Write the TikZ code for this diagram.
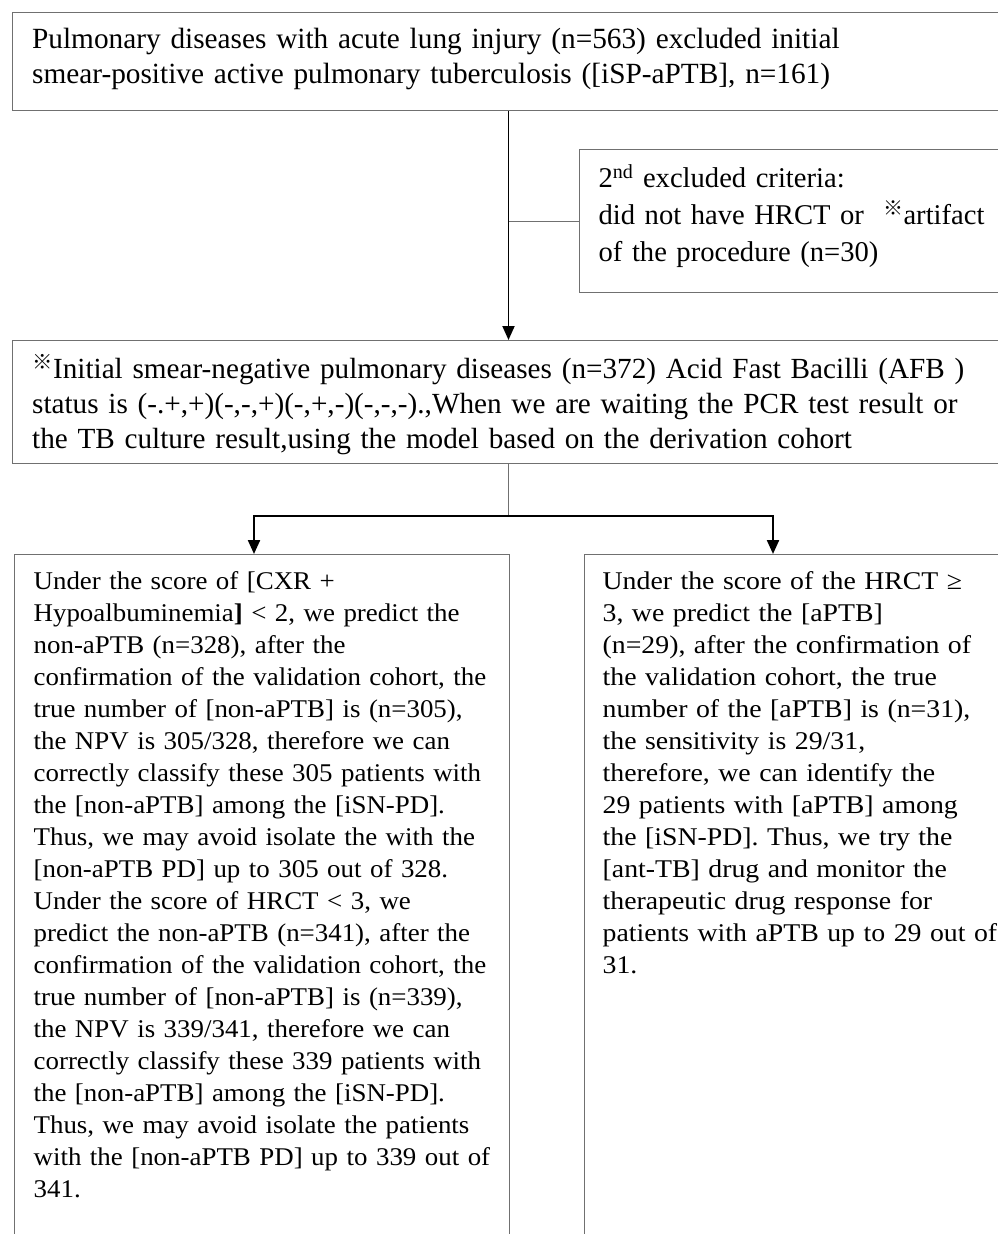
\documentclass[tikz,border=0pt]{standalone}
\usepackage{fontspec}
\setmainfont{Liberation Serif}
\newfontfamily\wideA[FakeStretch=1.055]{Liberation Serif}
\newfontfamily\wideB[FakeStretch=1.09]{Liberation Serif}
\newfontfamily\cjk{Noto Sans CJK SC}
\usetikzlibrary{arrows.meta}
\newcommand\refmark{\textsuperscript{\cjk ※}}
\newcommand\boxlines[1]{\begin{tabular}[t]{@{}l@{}}#1\end{tabular}}
\definecolor{boxgray}{HTML}{707070}

\begin{document}
\begin{tikzpicture}[x=1pt,y=-1pt,
    box/.style={draw=boxgray,line width=1.3pt,anchor=north west,align=left,inner ysep=0pt},
    arr/.style={-{Triangle[length=14pt,width=12pt]},line width=1.9pt},
    lnk/.style={draw=boxgray,line width=1.2pt}]
  \useasboundingbox (0,0) rectangle (998,1234);
  \clip (0,0) rectangle (998,1234);
  % boxes
  \node[box,inner xsep=20pt,text width=958pt,text height=36pt,text depth=62pt,
    font=\fontsize{29.3}{34.5}\selectfont] (pd) at (11.5,12)
    {\boxlines{Pulmonary diseases with acute lung injury (n=563) excluded initial\\
     smear-positive active pulmonary tuberculosis ([iSP-aPTB], n=161)}};
  \node[box,inner xsep=19pt,text width=393pt,text height=38pt,text depth=105pt,
    font=\fontsize{28.6}{37}\selectfont] (ex2) at (579,149)
    {\boxlines{2\textsuperscript{nd} excluded criteria:\\
     did not have HRCT or \ \refmark artifact\\
     of the procedure (n=30)}};
  \node[box,inner xsep=20pt,text width=958pt,text height=38pt,text depth=85pt,
    font=\fontsize{29.2}{35}\selectfont] (sn) at (11.5,340)
    {\boxlines{\refmark Initial smear-negative pulmonary diseases (n=372) Acid Fast Bacilli (AFB )\\
     status is (-.+,+)(-,-,+)(-,+,-)(-,-,-).,When we are waiting the PCR test result or\\
     the TB culture result,using the model based on the derivation cohort}};
  \node[box,inner xsep=19pt,text width=456.5pt,text height=35pt,text depth=700pt,
    font=\wideA\fontsize{25.5}{32}\selectfont] (neg) at (14,554)
    {\boxlines{Under the score of [CXR +\\
     Hypoalbuminemia\textbf{]} < 2, we predict the\\
     non-aPTB (n=328), after the\\
     confirmation of the validation cohort, the\\
     true number of [non-aPTB] is (n=305),\\
     the NPV is 305/328, therefore we can\\
     correctly classify these 305 patients with\\
     the [non-aPTB] among the [iSN-PD].\\
     Thus, we may avoid isolate the with the\\
     {}[non-aPTB PD] up to 305 out of 328.\\
     Under the score of HRCT < 3, we\\
     predict the non-aPTB (n=341), after the\\
     confirmation of the validation cohort, the\\
     true number of [non-aPTB] is (n=339),\\
     the NPV is 339/341, therefore we can\\
     correctly classify these 339 patients with\\
     the [non-aPTB] among the [iSN-PD].\\
     Thus, we may avoid isolate the patients\\
     with the [non-aPTB PD] up to 339 out of\\
     341.}};
  \node[box,inner xsep=18.5pt,text width=390pt,text height=35pt,text depth=700pt,
    font=\wideB\fontsize{25.5}{32}\selectfont] (pos) at (583.5,554)
    {\boxlines{Under the score of the HRCT ≥\\
     3, we predict the [aPTB]\\
     (n=29), after the confirmation of\\
     the validation cohort, the true\\
     number of the [aPTB] is (n=31),\\
     the sensitivity is 29/31,\\
     therefore, we can identify the\\
     29 patients with [aPTB] among\\
     the [iSN-PD]. Thus, we try the\\
     {}[ant-TB] drug and monitor the\\
     therapeutic drug response for\\
     patients with aPTB up to 29 out of\\
     31.}};
  % connectors
  \coordinate (t) at (508.5,0);
  \coordinate (s) at (508.5,516);
  \coordinate (l) at (254,0);
  \coordinate (r) at (773,0);
  \draw[arr] (pd.south -| t) -- (sn.north -| t);
  \draw[lnk] (t |- ex2.west) -- (ex2.west);
  \draw[lnk] (sn.south -| s) -- (s);
  \draw[arr,line width=2.2pt] (s) -| (l |- neg.north);
  \draw[arr,line width=2.2pt] (s) -| (r |- pos.north);
\end{tikzpicture}
\end{document}
